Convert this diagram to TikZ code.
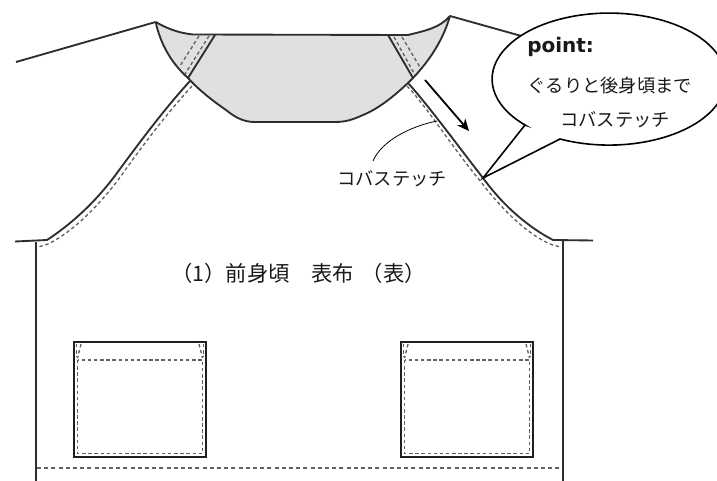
\documentclass[tikz,border=0pt]{standalone}
\usepackage{fontspec}
\setmainfont{Noto Sans CJK JP}
\newfontfamily\boldlat{DejaVu Sans}
\usetikzlibrary{arrows.meta}
\tikzset{
  x=0.75pt,y=-0.75pt,
  outl/.style={line width=1.4pt,color=black!82,line join=round},
  stitch/.style={line width=1pt,color=black!62,dash pattern=on 2.6pt off 2pt},
  pocketln/.style={line width=1.6pt,color=black!88},
  lbl/.style={inner sep=0pt,font=\fontsize{13.7pt}{15pt}\selectfont,color=black!90},
}
\begin{document}
\begin{tikzpicture}
\useasboundingbox (0,0) rectangle (717,481);
% neck fill
\fill[black!12] (155.7,22) .. controls (166,28) and (178,33) .. (193,34.5) -- (408,35) .. controls (424,31) and (440,28) .. (450,16)
  .. controls (443,40) and (430,60) .. (413,78) .. controls (395,96) and (378,109) .. (363,115) .. controls (352,120) and (345,122) .. (335,122)
  -- (255,122) .. controls (244,122) and (236,118) .. (226,110) .. controls (210,99) and (197,88) .. (188,78) .. controls (170,62) and (160,42) .. (155.7,22) -- cycle;
% stitches in the neck
\draw[stitch] (199,36) -- (180,66);
\draw[stitch] (209,36) -- (185,74);
\draw[stitch] (394,37) -- (415,75);
\draw[stitch] (402,37) -- (421,69);
% neck outline
\draw[outl] (16,62) -- (155.7,22);
\draw[outl] (155.7,22) .. controls (166,28) and (178,33) .. (193,34.5) -- (408,35) .. controls (424,31) and (440,28) .. (450,16);
\draw[outl] (450,16) .. controls (443,40) and (430,60) .. (413,78) .. controls (395,96) and (378,109) .. (363,115) .. controls (352,120) and (345,122) .. (335,122)
  -- (255,122) .. controls (244,122) and (236,118) .. (226,110) .. controls (210,99) and (197,88) .. (188,78) .. controls (170,62) and (160,42) .. (155.7,22);
\draw[outl] (215,35) -- (188,78);
\draw[outl] (388,35) -- (413,78);
% right sleeve
\draw[outl] (450,16) -- (525,37);
% raglan left
\draw[outl] (190,81) .. controls (170,103) and (150,128) .. (117,173) .. controls (95,203) and (70,225) .. (47,240) -- (15,241.5);
\draw[stitch] (192,86) .. controls (172,108) and (150,135) .. (121,176) .. controls (99,206) and (72,232) .. (50,243) .. controls (46,245) and (42,246) .. (38,247);
% raglan right
\draw[outl] (408,83) .. controls (428,105) and (455,142) .. (483,178) .. controls (505,208) and (530,228) .. (553,240) -- (593,240.5);
\draw[stitch] (407,86) .. controls (427,107) and (452,147) .. (481,182) .. controls (503,211) and (528,234) .. (548,243) .. controls (552,245) and (556,246) .. (561,247);
% body
\draw[outl] (36,242) -- (36,481);
\draw[outl] (563,241) -- (563,481);
\draw[stitch,line width=0.8pt,dash pattern=on 3pt off 2.4pt] (37,468) -- (562,468);
% pockets
\foreach \px/\nm in {74/a,401/b}{
  \draw[pocketln] (\px,342) rectangle ++(132,115);
  \draw[stitch] (\px+3.5,360) -- ++(0,93.5) -- ++(125,0) -- ++(0,-93.5) -- cycle;
  \draw[stitch] (\px+2.5,344) -- ++(0,13);
  \draw[stitch] (\px+7,344) -- (\px+3.5,358);
  \draw[stitch] (\px+129.5,344) -- ++(0,13);
  \draw[stitch] (\px+125,344) -- (\px+128.5,358);
}
% arrow
\draw[line width=1.35pt,-{Stealth[length=9pt,width=8pt]}] (425,80) -- (469,131);
% leader
\draw[line width=0.6pt] (437,121) .. controls (412,126) and (382,140) .. (373,161);
% callout
\draw[line width=1.2pt,fill=white,line join=miter] (525,125) -- (483,178) -- (560,139)
  arc[x radius=87.75pt,y radius=49.5pt,start angle=245.2,end angle=584.1] -- cycle;
% text
\node[lbl] (t1) at (392,179) {コバステッチ};
\node[lbl,font=\fontsize{16pt}{18pt}\selectfont,anchor=west] (t2) at (171,273) {（1）前身頃　表布\hspace{6pt}（表）};
\node[lbl,font=\fontsize{15pt}{17pt}\selectfont\boldlat\bfseries,anchor=base west] (t3) at (527,53) {point:};
\node[lbl] (t4) at (610,86) {ぐるりと後身頃まで};
\node[lbl] (t5) at (615,120) {コバステッチ};
\end{tikzpicture}
\end{document}
